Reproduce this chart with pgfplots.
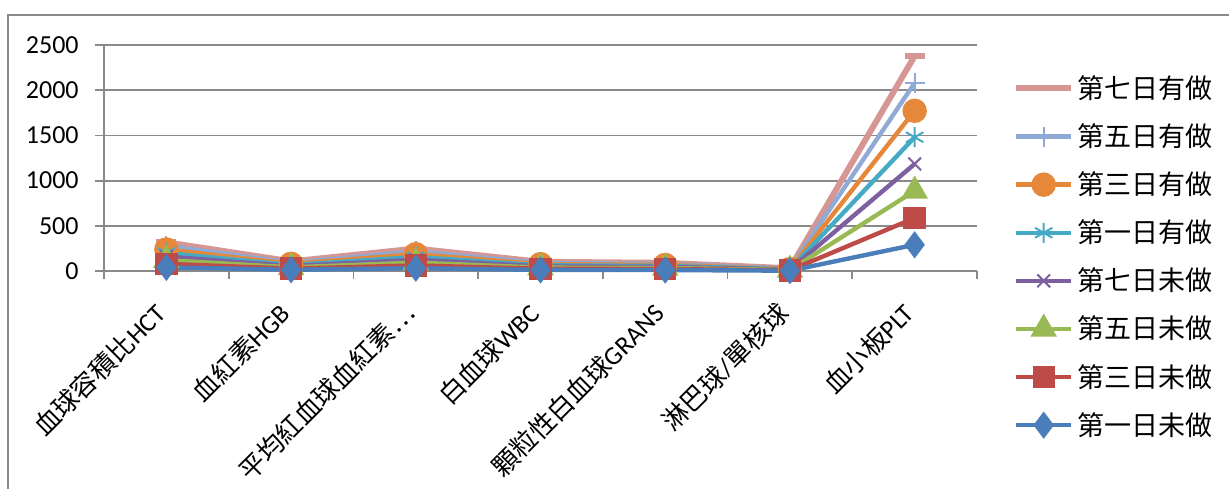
\documentclass[border=0pt]{standalone}
\usepackage{fontspec}
\setmainfont{Carlito}
\newfontfamily\cjk{Noto Sans CJK TC}
\usepackage{pgfplots}
\pgfplotsset{compat=1.18}

\definecolor{sA}{HTML}{4A7EBB}
\definecolor{sB}{HTML}{BE4B48}
\definecolor{sC}{HTML}{98B954}
\definecolor{sD}{HTML}{7D60A0}
\definecolor{sE}{HTML}{46AAC5}
\definecolor{sF}{HTML}{E6883A}
\definecolor{sG}{HTML}{8FAAD4}
\definecolor{sH}{HTML}{D69694}
\definecolor{gridgray}{HTML}{8A8A8A}

\newcommand{\lbl}{\fontsize{13pt}{15pt}\selectfont}

\begin{document}
\begin{tikzpicture}
\useasboundingbox (0,0) rectangle (614.5pt,244.5pt);
% chart frame
\draw[gridgray, line width=1pt] (4pt,0) -- (4pt,237pt) -- (614.5pt,237pt);
\begin{axis}[
  at={(52pt,109pt)}, anchor=south west,
  scale only axis, width=436.5pt, height=113pt,
  xmin=-0.5, xmax=6.5, ymin=0, ymax=2500,
  ytick={0,500,...,2500},
  xtick={0,...,6},
  xticklabels={{\cjk 血球容積比}HCT, {\cjk 血紅素}HGB, {\cjk 平均紅血球血紅素…}, {\cjk 白血球}WBC, {\cjk 顆粒性白血球}GRANS, {\cjk 淋巴球}/{\cjk 單核球}, {\cjk 血小板}PLT},
  minor xtick={-0.5,0.5,...,6.5},
  major x tick style={draw=none},
  tick align=outside,
  major tick length=4.5pt, minor tick length=4pt,
  tick style={gridgray, line width=0.9pt},
  ymajorgrids, grid style={gridgray, line width=0.9pt},
  axis x line*=bottom, axis y line*=left,
  axis line style={gridgray, line width=0.9pt, -},
  xticklabel style={xshift=-7.3pt, yshift=-9.7pt, rotate=45, anchor=north east, font=\lbl, inner sep=0pt},
  yticklabel style={font=\lbl, anchor=east, inner sep=0pt, xshift=-8pt},
  /pgf/number format/assume math mode=true,
  /pgf/number format/set thousands separator={},
  stack plots=y,
  clip=false,
  reverse legend,
  legend cell align=left,
  legend style={at={(1.041,0.88)}, anchor=north west, draw=none, fill=none,
    font=\cjk\fontsize{13.5pt}{15pt}\selectfont, row sep=8.1pt, inner sep=0pt,
    nodes={inner sep=1.5pt}},
  legend image code/.code={\draw[mark repeat=2,mark phase=2] plot coordinates {(0pt,0pt) (13.75pt,0pt) (27.5pt,0pt)};},
  every axis plot/.append style={line width=2.2pt},
]
% bottom to top of the stack
\addplot[sA, mark=diamond*, mark size=5pt, mark options={solid}] coordinates {(0,40) (1,13.5) (2,31) (3,12) (4,10.5) (5,3.5) (6,290)};
\addlegendentry{第一日未做}
\addplot[sB, mark=square*, mark size=4.5pt, mark options={solid}] coordinates {(0,39) (1,13) (2,30.5) (3,13) (4,11) (5,4) (6,296)};
\addlegendentry{第三日未做}
\addplot[sC, mark=triangle*, mark size=5.5pt, mark options={solid}] coordinates {(0,41) (1,13.8) (2,31.5) (3,12.5) (4,11.5) (5,3.8) (6,300)};
\addlegendentry{第五日未做}
\addplot[sD, mark=x, mark size=4.5pt, mark options={solid, line width=1pt}] coordinates {(0,40) (1,13.2) (2,31) (3,13.5) (4,12) (5,3.6) (6,298)};
\addlegendentry{第七日未做}
\addplot[sE, mark=asterisk, mark size=5pt, mark options={solid, line width=1pt}] coordinates {(0,38.5) (1,12.8) (2,30.8) (3,12.2) (4,10.8) (5,3.9) (6,296)};
\addlegendentry{第一日有做}
\addplot[sF, mark=*, mark size=5pt, mark options={solid}] coordinates {(0,39.5) (1,13.4) (2,31.2) (3,12.8) (4,11.2) (5,3.7) (6,292)};
\addlegendentry{第三日有做}
\addplot[sG, mark=+, mark size=5pt, mark options={solid, line width=1pt}] coordinates {(0,40.5) (1,13.1) (2,30.6) (3,13.2) (4,11.6) (5,3.8) (6,308)};
\addlegendentry{第五日有做}
\addplot[sH, line width=3pt, mark=-, mark size=5pt, mark options={solid}] coordinates {(0,39) (1,13.6) (2,31.4) (3,12.6) (4,11.4) (5,3.6) (6,298)};
\addlegendentry{第七日有做}
\end{axis}
\end{tikzpicture}
\end{document}
